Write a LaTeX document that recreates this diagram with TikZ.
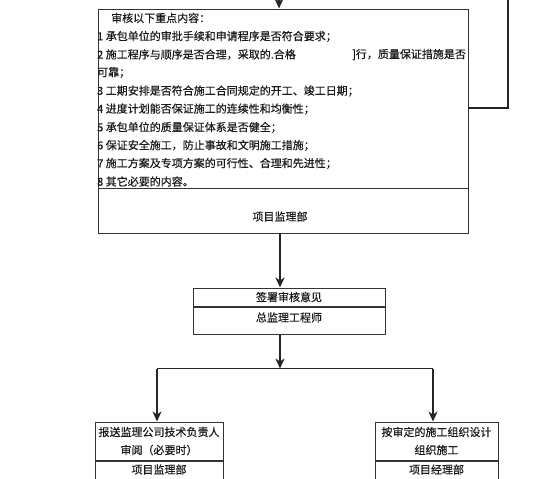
\documentclass[tikz,border=0pt]{standalone}
\usepackage{fontspec}
\newfontfamily\cjk[FakeBold=0.4]{Noto Sans CJK SC}
\usetikzlibrary{arrows.meta,positioning}
\begin{document}
\begin{tikzpicture}[x=1pt,y=-1pt,
  every node/.style={font=\cjk\fontsize{11}{12}\selectfont, text=black!90},
  boxline/.style={draw=black!80, line width=1pt},
  arr/.style={draw=black!85, line width=1.2pt, -{Stealth[length=10pt,width=9pt,inset=3pt]}},
  ln/.style={draw=black!85, line width=1.1pt},
  txt/.style={anchor=west, inner sep=0pt},
  ctr/.style={inner sep=0pt}]
\useasboundingbox (0,0) rectangle (560,479);
% main box
\node[boxline, minimum width=370pt, minimum height=179pt, inner sep=0pt] (mainA) at (283,98.5) {};
\node[boxline, minimum width=370pt, minimum height=45pt, inner sep=0pt] (mainB) at (283,210.5) {};
\node[txt] (h) at (111,18) {审核以下重点内容：};
\node[txt] (l1) at (97,36.5) {1 承包单位的审批手续和申请程序是否符合要求；};
\node[txt] (l2a) at (97,54.5) {2 施工程序与顺序是否合理，采取的.合格};
\node[txt] (l2b) at (352,54.5) {]行，质量保证措施是否};
\node[txt] (l2c) at (97,72.5) {可靠；};
\node[txt] (l3) at (97,91) {3 工期安排是否符合施工合同规定的开工、竣工日期；};
\node[txt] (l4) at (97,109) {4 进度计划能否保证施工的连续性和均衡性；};
\node[txt] (l5) at (97,127.5) {5 承包单位的质量保证体系是否健全；};
\node[txt] (l6) at (97,145.5) {6 保证安全施工，防止事故和文明施工措施；};
\node[txt] (l7) at (97,163.5) {7 施工方案及专项方案的可行性、合理和先进性；};
\node[txt] (l8) at (97,181.5) {8 其它必要的内容。};
\node[ctr] (mb) at (280,216.5) {项目监理部};
% sign box
\node[boxline, minimum width=192pt, minimum height=18pt, inner sep=0pt] (signA) at (289,297) {签署审核意见};
\node[boxline, minimum width=192pt, minimum height=27pt, inner sep=0pt, below=0pt of signA, text depth=0pt] (signB) {};
\node[ctr] at (289,317.5) {总监理工程师};
% bottom left box
\node[boxline, minimum width=128pt, minimum height=38pt, inner sep=0pt] (lA) at (159,441) {};
\node[ctr] at (159,432) {报送监理公司技术负责人};
\node[ctr] at (159,450) {审阅（必要时）};
\node[boxline, minimum width=128pt, minimum height=22pt, inner sep=0pt, below=0pt of lA] (lB) {};
\node[ctr] at (159,469.5) {项目监理部};
% bottom right box
\node[boxline, minimum width=123pt, minimum height=38pt, inner sep=0pt] (rA) at (436.5,441) {};
\node[ctr] at (436.5,432) {按审定的施工组织设计};
\node[ctr] at (436.5,450) {组织施工};
\node[boxline, minimum width=123pt, minimum height=22pt, inner sep=0pt, below=0pt of rA] (rB) {};
\node[ctr] at (436.5,469.5) {项目经理部};
% connectors
\coordinate (topin) at (279,-2);
\draw[arr] (topin) -- (mainA.north -| topin);
\coordinate (fbA) at (468,108);
\coordinate (fbB) at (508,108);
\coordinate (fbC) at (508,-2);
\draw[ln] (fbA) -- (fbB) -- (fbC);
\draw[arr] (mainB.south -| 280,0) -- (signA.north -| 280,0);
\coordinate (split) at (280,368.5);
\coordinate (splL) at (157,368.5);
\coordinate (splR) at (433,368.5);
\draw[arr] (signB.south -| split) -- (split);
\draw[ln] (splL) -- (splR);
\draw[arr] (splL) -- (lA.north -| splL);
\draw[arr] (splR) -- (rA.north -| splR);
\end{tikzpicture}
\end{document}
